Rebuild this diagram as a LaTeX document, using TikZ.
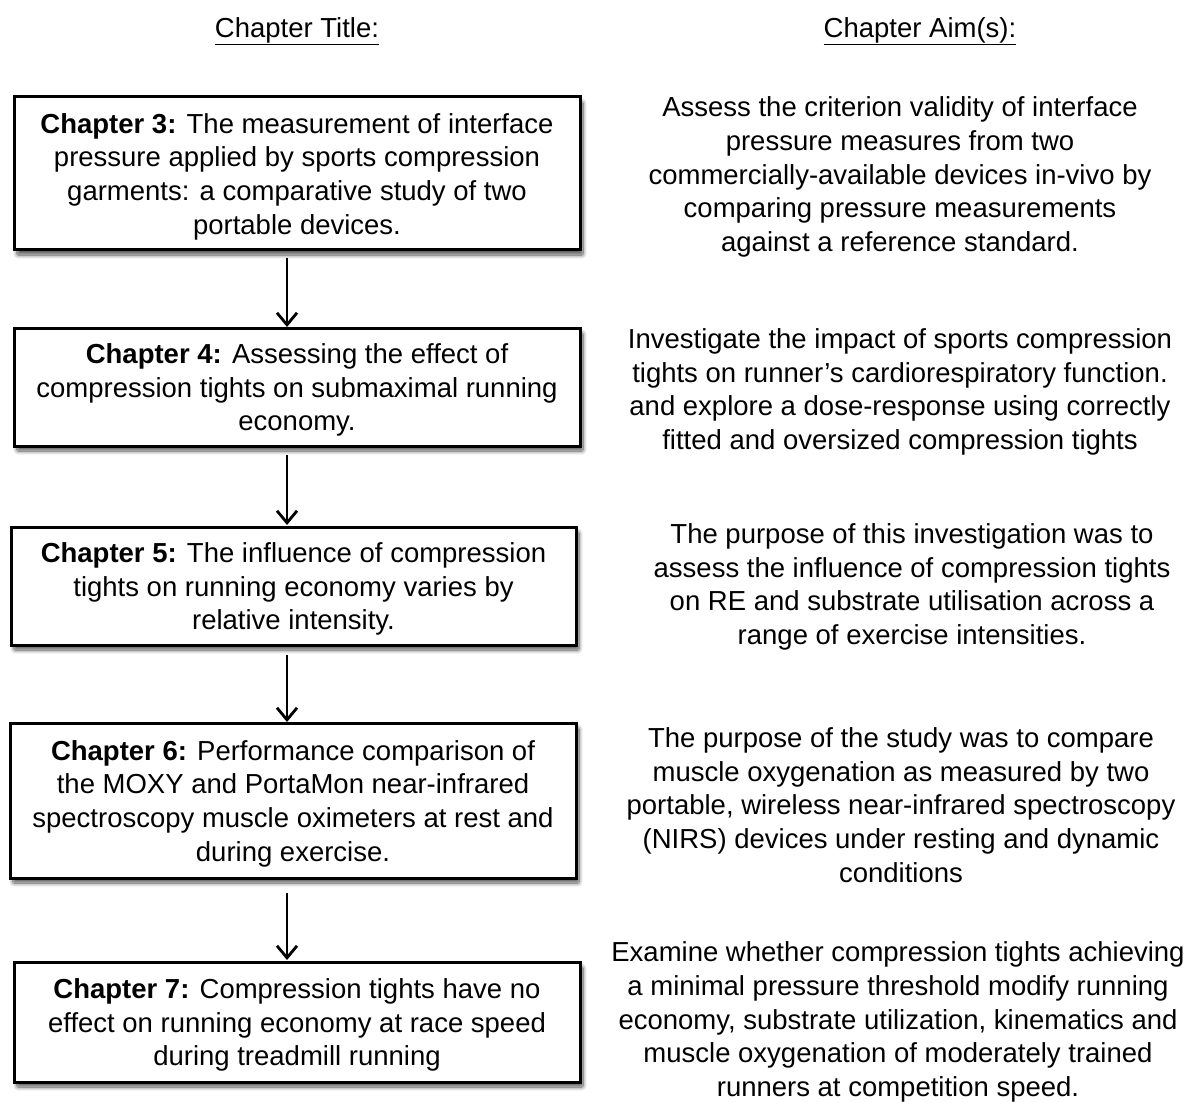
\documentclass[tikz,border=0pt]{standalone}
\usepackage{fontspec}
\setmainfont{Liberation Sans}
\usetikzlibrary{arrows.meta,shadows.blur}
\begin{document}
\begin{tikzpicture}[x=1pt,y=-1pt,
  every node/.style={inner sep=0pt,outer sep=0pt},
  txt/.style={align=center,font=\fontsize{27.5}{33.7}\selectfont,yshift=-3pt},
  chbox/.style={draw=black,line width=3pt,fill=white,
    blur shadow={shadow xshift=3pt,shadow yshift=-5pt,shadow blur steps=10,shadow blur radius=4pt,shadow blur extra rounding=1pt,shadow opacity=65}},
  arr/.style={line width=2.5pt,-{Straight Barb[length=12pt,width=20pt,line width=2.8pt]}},
  hdr/.style={font=\fontsize{27.5}{30}\selectfont,yshift=-3pt}]
\useasboundingbox (0,0) rectangle (1197,1102);
% headers
\node[hdr] (h1) at (297,28) {\underline{Chapter Title:}};
\node[hdr] (h2) at (920,28) {\underline{Chapter Aim(s):}};
% boxes
\node[chbox,minimum width=566pt,minimum height=153pt] (c3) at (297,173.5) {};
\node[chbox,minimum width=566pt,minimum height=118pt] (c4) at (297,387) {};
\node[chbox,minimum width=565pt,minimum height=118pt] (c5) at (293.5,586) {};
\node[chbox,minimum width=566pt,minimum height=155pt] (c6) at (293,800.5) {};
\node[chbox,minimum width=566pt,minimum height=120pt] (c7) at (297,1022) {};
% box texts
\node[txt] (t3) at (c3) {\textbf{Chapter 3:} The measurement of interface\\pressure applied by sports compression\\garments: a comparative study of two\\portable devices.};
\node[txt] (t4) at (c4) {\textbf{Chapter 4:} Assessing the effect of\\compression tights on submaximal running\\economy.};
\node[txt] (t5) at (c5) {\textbf{Chapter 5:} The influence of compression\\tights on running economy varies by\\relative intensity.};
\node[txt] (t6) at (c6) {\textbf{Chapter 6:} Performance comparison of\\the MOXY and PortaMon near-infrared\\spectroscopy muscle oximeters at rest and\\during exercise.};
\node[txt] (t7) at (c7) {\textbf{Chapter 7:} Compression tights have no\\effect on running economy at race speed\\during treadmill running};
% aims
\node[txt] (a3) at (900,174) {Assess the criterion validity of interface\\pressure measures from two\\commercially-available devices in-vivo by\\comparing pressure measurements\\against a reference standard.};
\node[txt] (a4) at (900,389) {Investigate the impact of sports compression\\tights on runner’s cardiorespiratory function.\\and explore a dose-response using correctly\\fitted and oversized compression tights};
\node[txt] (a5) at (912,584) {The purpose of this investigation was to\\assess the influence of compression tights\\on RE and substrate utilisation across a\\range of exercise intensities.};
\node[txt] (a6) at (901,802) {The purpose of the study was to compare\\muscle oxygenation as measured by two\\portable, wireless near-infrared spectroscopy\\(NIRS) devices under resting and dynamic\\conditions};
\node[txt,yshift=3pt] (a7) at (898,1022) {Examine whether compression tights achieving\\a minimal pressure threshold modify running\\economy, substrate utilization, kinematics and\\muscle oxygenation of moderately trained\\runners at competition speed.};
% arrows
\coordinate (s34) at (287,258); \coordinate (e34) at (287,327);
\coordinate (s45) at (287,455); \coordinate (e45) at (287,525);
\coordinate (s56) at (287,655); \coordinate (e56) at (287,722);
\coordinate (s67) at (287,893); \coordinate (e67) at (287,960);
\draw[arr] (s34) -- (e34);
\draw[arr] (s45) -- (e45);
\draw[arr] (s56) -- (e56);
\draw[arr] (s67) -- (e67);
\end{tikzpicture}
\end{document}
